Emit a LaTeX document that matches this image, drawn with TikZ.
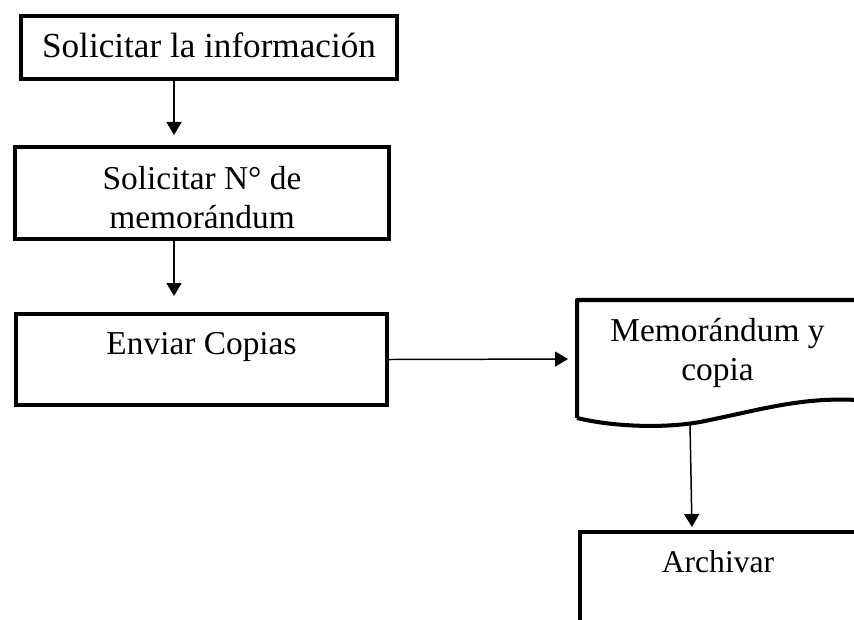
\documentclass[tikz,border=0pt]{standalone}
\usepackage{fontspec}
\setmainfont{Liberation Serif}
\usetikzlibrary{arrows.meta, calc}
\tikzset{
  paso/.style={draw, line width=2.3pt, inner sep=0pt},
  hoja/.style={inner sep=0pt, outer sep=0pt},
  texto/.style={align=center, anchor=base, inner sep=0pt, font=\fontsize{19}{22.2}\selectfont},
  flecha/.style={line width=0.85pt, -{Triangle[width=0.3cm, length=0.26cm]}},
}
\begin{document}
\begin{tikzpicture}[x=0.02cm, y=-0.02cm]
  \useasboundingbox (0,0) rectangle (854,619);
  \clip (0,0) rectangle (854,619);

  % Box for Solicitar la informacion
  \node[paso, minimum width=7.52cm, minimum height=1.26cm] (solicitar) at (209,47.5) {};
  \node[texto, font=\fontsize{20}{22.2}\selectfont] (solicitarTxt) at (209,57) {Solicitar la información};

  % Box for Solicitar N de memorandum (text cut at the bottom)
  \node[paso, minimum width=7.48cm, minimum height=1.84cm] (numero) at (202,193) {};
  \begin{scope}
    \clip (15,147) rectangle (389,227);
    \node[texto] (numeroTxt) at (202,228) {Solicitar N° de\\memorándum};
  \end{scope}

  % Box for Enviar Copias
  \node[paso, minimum width=7.42cm, minimum height=1.82cm] (envio) at (201.5,359.5) {};
  \node[texto] (envioTxt) at (201.5,354) {Enviar Copias};

  % Document for Memorandum y copia
  \node[hoja, minimum width=5.6cm, minimum height=2.36cm] (memo) at (717,359) {};
  \draw[line width=2.3pt, line join=round]
    (memo.south west) -- (memo.north west) -- (memo.north east) -- ($(memo.south east)+(0,-18)$)
    .. controls (800,397) and (760,410) .. (700,422)
    .. controls (660,429) and (610,426) .. (memo.south west);
  \node[texto] (memoTxt) at (717.5,380) {Memorándum y\\copia};

  % Box for Archivar (runs off the page)
  \node[paso, minimum width=5.52cm, minimum height=2.96cm] (archivo) at (718,606) {};
  \node[texto, font=\fontsize{18}{22.2}\selectfont] (archivoTxt) at (718,572) {Archivar};

  % Arrows
  \draw[flecha, shorten >=0.2cm] ($(solicitar.south)+(-35,0)$) -- ($(numero.north)+(-28,0)$);
  \draw[flecha, shorten >=0.32cm] ($(numero.south)+(-28,0)$) -- ($(envio.north)+(-27.5,0)$);
  \draw[flecha, shorten >=0.18cm] (envio.east) -- (memo.west);
  \draw[flecha, shorten >=0.06cm] ($(memo.south)+(-27,6)$) -- ($(archivo.north)+(-26,0)$);
\end{tikzpicture}
\end{document}
